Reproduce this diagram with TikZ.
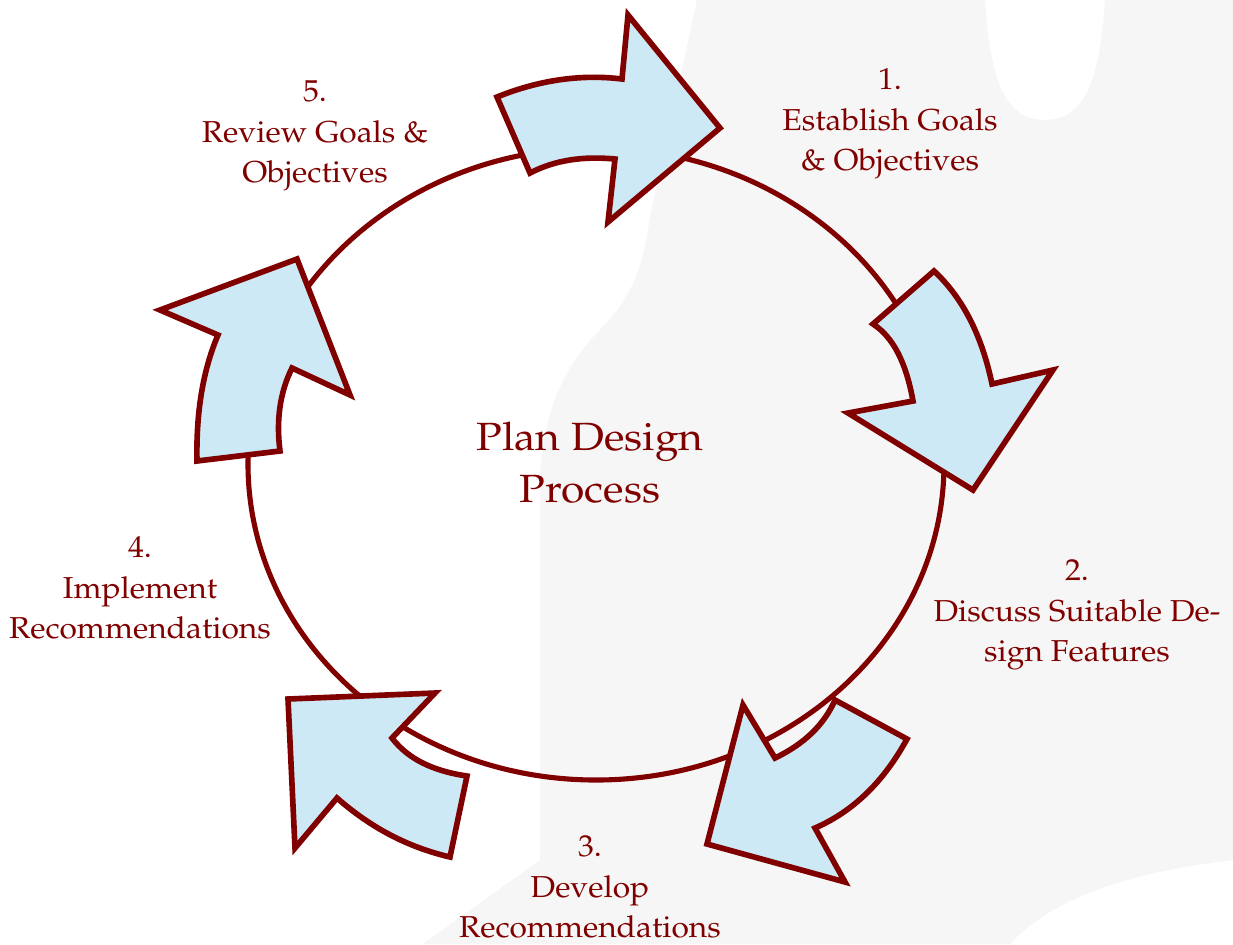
\documentclass[tikz,border=0pt]{standalone}
\usepackage[T1]{fontenc}
\usepackage{mathpazo}
\usepackage{graphicx}
\usepackage{tikz}
\usetikzlibrary{calc}

\definecolor{ringred}{RGB}{128,0,0}
\definecolor{arrowblue}{RGB}{205,233,245}
\definecolor{leafgray}{RGB}{246,246,246}

\newcommand{\slidetext}[2][1.05]{\scalebox{#1}[1]{\begin{tabular}{@{}c@{}}#2\end{tabular}}}

\tikzset{
  ringline/.style={draw=ringred, line width=1.45pt},
  blockarrow/.style={draw=ringred, fill=arrowblue, line width=1.6pt, line join=miter},
  steplabel/.style={text=ringred, inner sep=0pt, font=\fontsize{8.6}{11.4}\selectfont},
  titletext/.style={text=ringred, inner sep=0pt, font=\fontsize{11.2}{15}\selectfont}
}

\begin{document}
\begin{tikzpicture}[x=0.01cm, y=-0.01cm]
    \fill[white] (0,0) rectangle (1233,944);
    \useasboundingbox (0,0) rectangle (1233,944);

    % faint leaf in the background
    \fill[leafgray] (697,0) -- (985,0) .. controls (990,90) and (1010,120) .. (1045,120)
        .. controls (1085,120) and (1100,80) .. (1105,0) -- (1233,0) -- (1233,860)
        .. controls (1150,870) and (1060,890) .. (1010,944) -- (423,944)
        -- (540,860) -- (540,480) .. controls (542,420) and (560,370) .. (600,330)
        .. controls (640,290) and (645,250) .. (650,217) -- cycle;

    % the ring
    \coordinate (O) at (596,464);
    \draw[ringline] (O) ellipse [x radius=348, y radius=316];

    % arrows round the ring
    \draw[blockarrow] (497,97) .. controls (539,80) and (581,74) .. (622,79) -- (628,15)
        -- (720,128) -- (608,222) -- (615,159) .. controls (583,156) and (555,160) .. (530,173) -- cycle;
    \draw[blockarrow] (934,271) .. controls (963,298) and (982,336) .. (992,384) -- (1053,370)
        -- (973,490) -- (848,413) -- (913,401) .. controls (906,362) and (893,337) .. (873,324) -- cycle;
    \draw[blockarrow] (835,700) -- (907,739) .. controls (884,781) and (854,811) .. (815,828)
        -- (845,882) -- (707,844) -- (743,705) -- (775,758) .. controls (804,744) and (824,725) .. cycle;
    \draw[blockarrow] (288,699) -- (435,693) -- (392,738) .. controls (408,759) and (433,771) .. (467,776)
        -- (450,857) .. controls (407,847) and (370,827) .. (337,798) -- (295,848) -- cycle;
    \draw[blockarrow] (197,461) .. controls (196,412) and (203,370) .. (218,335) -- (160,310)
        -- (297,259) -- (350,395) -- (292,368) .. controls (280,392) and (276,420) .. (280,451) -- cycle;

    % labels
    \node[titletext] (title) at (590,466) {\slidetext[1.08]{Plan Design\\Process}};
    \node[steplabel] (s1) at (890,122) {\slidetext{1.\\Establish Goals\\\& Objectives}};
    \node[steplabel] (s2) at (1077,613) {\slidetext{2.\\Discuss Suitable De-\\sign Features}};
    \node[steplabel] (s3) at (590,889) {\slidetext{3.\\Develop\\Recommendations}};
    \node[steplabel] (s4) at (140,590) {\slidetext{4.\\Implement\\Recommendations}};
    \node[steplabel] (s5) at (315,134) {\slidetext{5.\\Review Goals \&\\Objectives}};
\end{tikzpicture}
\end{document}
